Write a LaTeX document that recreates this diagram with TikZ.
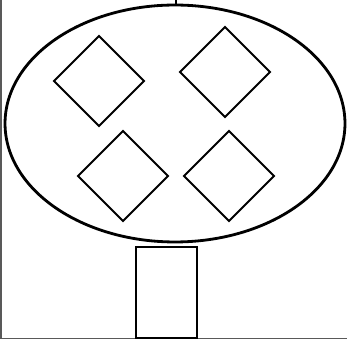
\documentclass[tikz,border=0pt]{standalone}
\usetikzlibrary{shapes.geometric, positioning}
\tikzset{
  % --- Than cay --------------------------------------------
  crown/.style={draw, ellipse, line width=1.6pt, fill=none,
    minimum width=6.8cm, minimum height=4.74cm, inner sep=0pt},
  gem/.style={draw, diamond, aspect=1, line width=1.1pt, fill=none,
    minimum width=1.82cm, minimum height=1.82cm, inner sep=0pt},
  trunk/.style={draw, rectangle, line width=1.6pt, fill=none,
    minimum width=1.22cm, minimum height=1.82cm, inner sep=0pt},
  stem/.style={line width=1.1pt},
  frame/.style={black!65, line width=0.6pt}
}
\begin{document}
\begin{tikzpicture}[x=0.02cm, y=-0.02cm]
  \useasboundingbox (0,0) rectangle (347,340);

  % --- Khung -------------------------------------------------
  \draw[frame] (1,0) -- (1,338.5) -- (347,338.5);

  % --- Tan va than -------------------------------------------
  \node[crown] (CROWN) at (175,123.5) {};
  \node[trunk] (TRUNK) at (166.5,292.5) {};
  \coordinate (TOP) at (176,0);
  \draw[stem] (CROWN.north -| TOP) -- (TOP);

  % --- Hinh thoi ---------------------------------------------
  \node[gem] (G1) at (99,81) {};
  \node[gem] (G2) at (225,72) {};
  \node[gem] (G3) at (123,176) {};
  \node[gem] (G4) at (229,176) {};

\end{tikzpicture}
\end{document}
